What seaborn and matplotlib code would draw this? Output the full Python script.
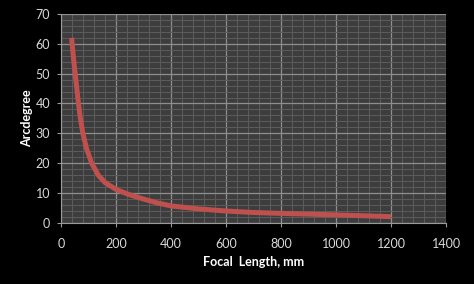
import matplotlib
matplotlib.use("Agg")
import matplotlib.pyplot as plt
import seaborn as sns
import pandas as pd
from matplotlib.ticker import MultipleLocator

focal_mm = [38, 45, 51, 57, 63, 70, 79, 92, 111, 135, 160, 200, 250, 300,
            350, 400, 500, 600, 700, 800, 1000, 1200]
arcdegree = [62, 55, 50, 45, 40, 35, 30, 25, 20, 16, 13.5, 11.2, 9.4, 8.0,
             6.7, 5.7, 4.7, 4.0, 3.5, 3.2, 2.7, 2.1]
x_ticks = [0, 200, 400, 600, 800, 1000, 1200, 1400]
y_ticks = [0, 10, 20, 30, 40, 50, 60, 70]

df = pd.DataFrame({"Focal  Length, mm": focal_mm, "Arcdegree": arcdegree})

sns.set_style("dark")
plt.rcParams['font.family'] = ['Lato', 'DejaVu Sans']

fig = plt.figure(figsize=(4.74, 2.84), dpi=100, facecolor="black")
ax = fig.add_axes([0.129, 0.215, 0.812, 0.736])
ax.set_facecolor("#3d3d3d")

sns.lineplot(data=df, x="Focal  Length, mm", y="Arcdegree", ax=ax,
             color="#c0504d", linewidth=3.6, solid_capstyle="butt",
             solid_joinstyle="round", zorder=3)

ax.set_xlim(0, 1400)
ax.set_ylim(0, 70)
ax.set_xticks(x_ticks)
ax.set_yticks(y_ticks)
ax.xaxis.set_minor_locator(MultipleLocator(40))
ax.yaxis.set_minor_locator(MultipleLocator(2))
ax.grid(which="major", color="#8e8e8e", linewidth=0.9, zorder=1)
ax.grid(which="minor", color="#5c5c5c", linewidth=0.7, zorder=0)
ax.set_axisbelow(True)

for s in ["top", "right"]:
    ax.spines[s].set_visible(False)
ax.spines["left"].set_visible(True)
ax.spines["bottom"].set_visible(True)
ax.spines["left"].set_color("#9a9a9a")
ax.spines["bottom"].set_color("#9a9a9a")

ax.tick_params(axis="both", which="major", colors="#d9d9d9", labelsize=9,
               length=3, color="#9a9a9a", pad=5)
ax.tick_params(axis="both", which="minor", length=0)
ax.tick_params(axis="x", bottom=True, pad=8)
ax.tick_params(axis="y", left=True)

ax.set_xlabel("Focal  Length, mm", color="white", fontsize=9, fontweight="bold")
ax.set_ylabel("Arcdegree", color="white", fontsize=9, fontweight="bold")
ax.xaxis.set_label_coords(0.5, -0.187)
ax.yaxis.set_label_coords(-0.088, 0.5)
ax.yaxis.label.set_verticalalignment("center")
ax.xaxis.label.set_verticalalignment("center")

fig.savefig("out.png", dpi=100, facecolor="black")
